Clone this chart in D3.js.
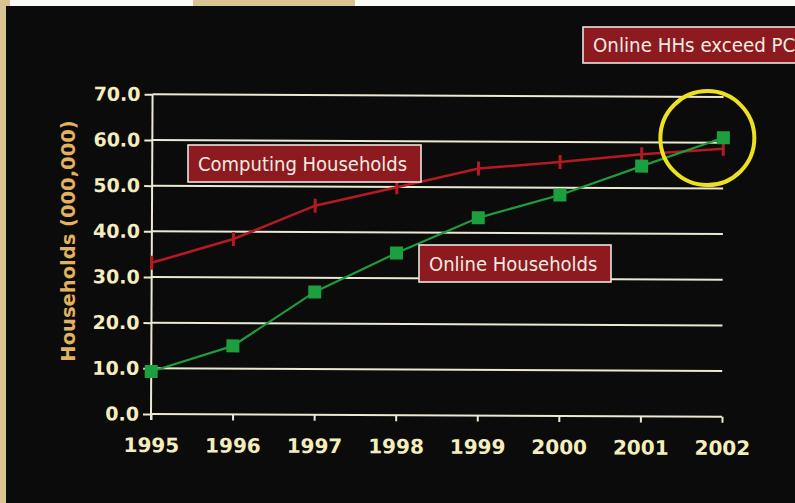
<!DOCTYPE html>
<html>
<head>
<meta charset="utf-8">
<script src="https://cdn.jsdelivr.net/npm/d3@7"></script>
<style>
  html, body { margin: 0; padding: 0; background: #d9c592; }
  svg { display: block; }
</style>
</head>
<body>
<svg width="795" height="503"></svg>
<script>
var years = ["1995", "1996", "1997", "1998", "1999", "2000", "2001", "2002"];
var computingHH = [33.1, 38.4, 45.8, 49.9, 54.1, 55.6, 57.4, 58.7];
var onlineHH = [9.3, 15.0, 26.9, 35.5, 43.3, 48.4, 54.8, 61.1];
var yTicks = [0, 10, 20, 30, 40, 50, 60, 70];

var svg = d3.select("svg");
var width = +svg.attr("width");
var height = +svg.attr("height");

// scanned slide edges
svg.append("rect").attr("width", width).attr("height", height).attr("fill", "#d8c391");
svg.append("rect").attr("x", 10).attr("y", 0).attr("width", 183).attr("height", 7).attr("fill", "#fbfaf4");
svg.append("rect").attr("x", 355).attr("y", 0).attr("width", width - 355).attr("height", 7).attr("fill", "#fbfaf4");
svg.append("rect").attr("x", 6).attr("y", 6).attr("width", width - 6).attr("height", height - 6).attr("fill", "#0c0b0b");

var x = d3.scalePoint().domain(years).range([151, 722]);
var y = d3.scaleLinear().domain([0, 70]).range([414, 94.3]);

// the scan is a little tilted
var g = svg.append("g").attr("transform", "rotate(0.28, 151, 414)");

var grid = g.append("g");
grid.selectAll("line")
  .data(yTicks.slice(1))
  .enter().append("line")
  .attr("x1", 151).attr("x2", 722)
  .attr("y1", d => y(d)).attr("y2", d => y(d))
  .attr("stroke", "#ece8d2")
  .attr("stroke-width", 2);

var yAxis = g.append("g")
  .attr("transform", "translate(151,0)")
  .call(d3.axisLeft(y).tickValues(yTicks).tickFormat(d3.format(".1f")).tickSize(8).tickPadding(4).tickSizeOuter(0));
yAxis.select(".domain").remove();
yAxis.selectAll(".tick line").attr("stroke", "#ece8d2").attr("stroke-width", 2);
yAxis.selectAll("text")
  .attr("fill", "#f4edbd")
  .style("font-family", "'DejaVu Sans', Verdana, sans-serif")
  .style("font-weight", "bold")
  .style("font-size", "19px");

g.append("line")
  .attr("x1", 151).attr("x2", 151)
  .attr("y1", y(70)).attr("y2", y(0) + 6)
  .attr("stroke", "#ece8d2").attr("stroke-width", 2);

var xAxis = g.append("g")
  .attr("transform", "translate(0," + y(0) + ")")
  .call(d3.axisBottom(x).tickSize(6).tickPadding(18).tickSizeOuter(0));
xAxis.select(".domain").attr("d", "M151,0H722").attr("stroke", "#ece8d2").attr("stroke-width", 2);
xAxis.selectAll(".tick line").attr("stroke", "#ece8d2").attr("stroke-width", 2);
xAxis.selectAll("text")
  .attr("fill", "#f4edbd")
  .style("font-family", "'DejaVu Sans', Verdana, sans-serif")
  .style("font-weight", "bold")
  .style("font-size", "20px");

svg.append("text")
  .attr("transform", "translate(75,241) rotate(-90)")
  .attr("text-anchor", "middle")
  .attr("fill", "#e2b25f")
  .style("font-family", "'DejaVu Sans', Verdana, sans-serif")
  .style("font-weight", "bold")
  .style("font-size", "19.5px")
  .text("Households (000,000)");

var line = d3.line()
  .x((d, i) => x(years[i]))
  .y(d => y(d));

// Computing households
g.append("path")
  .datum(computingHH)
  .attr("d", line)
  .attr("fill", "none")
  .attr("stroke", "#b51a22")
  .attr("stroke-width", 2.6);
g.selectAll(".pcMark")
  .data(computingHH)
  .enter().append("line")
  .attr("class", "pcMark")
  .attr("x1", (d, i) => x(years[i])).attr("x2", (d, i) => x(years[i]))
  .attr("y1", d => y(d) - 7).attr("y2", d => y(d) + 7)
  .attr("stroke", "#b51a22")
  .attr("stroke-width", 3);

// Online households
g.append("path")
  .datum(onlineHH)
  .attr("d", line)
  .attr("fill", "none")
  .attr("stroke", "#1e9c3c")
  .attr("stroke-width", 2.2);
g.selectAll(".olMark")
  .data(onlineHH)
  .enter().append("rect")
  .attr("class", "olMark")
  .attr("x", (d, i) => x(years[i]) - 6.5)
  .attr("y", d => y(d) - 6.5)
  .attr("width", 13).attr("height", 13)
  .attr("fill", "#1b9f3f");

// highlight circle around the crossing
g.append("circle")
  .attr("cx", x("2002") - 16)
  .attr("cy", y(61.0))
  .attr("r", 47)
  .attr("fill", "none")
  .attr("stroke", "#ece11e")
  .attr("stroke-width", 4);

var labelFont = "'DejaVu Sans', Tahoma, sans-serif";

var addLabel = function (x0, y0, w, h, txt, size) {
  var lab = svg.append("g").attr("transform", "translate(" + x0 + "," + y0 + ")");
  lab.append("rect")
    .attr("width", w).attr("height", h)
    .attr("fill", "#8c1a1f")
    .attr("stroke", "#e9e4de")
    .attr("stroke-width", 1.6);
  lab.append("text")
    .attr("x", 10).attr("y", h / 2)
    .attr("dy", "0.36em")
    .attr("fill", "#f3ebe2")
    .style("font-family", labelFont)
    .style("font-stretch", "condensed")
    .style("font-size", size + "px")
    .text(txt);
};

addLabel(188, 145, 233, 37, "Computing Households", 20);
addLabel(419, 245, 192, 37, "Online Households", 20);
addLabel(583, 27, 230, 36, "Online HHs exceed PC", 20.3);
</script>
</body>
</html>
